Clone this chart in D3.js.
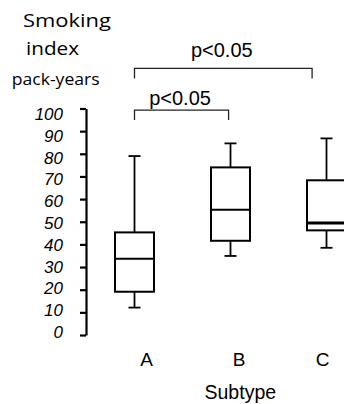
<!DOCTYPE html>
<html>
<head>
<meta charset="utf-8">
<script src="https://cdn.jsdelivr.net/npm/d3@7"></script>
<style>
  body { margin: 0; background: #fff; }
  svg { display: block; }
</style>
</head>
<body>
<div id="chart"></div>
<script>
// data
const categories = ['A', 'B', 'C'];
const whiskerHigh = [79, 84.6, 86.8];
const q3Values = [45.3, 74, 68.3];
const medianValues = [33.7, 55.3, 49.4];
const q1Values = [19.1, 41.6, 46.2];
const whiskerLow = [12.1, 34.9, 38.5];
const yTicks = [0, 10, 20, 30, 40, 50, 60, 70, 80, 90, 100];
// brackets: from / to are category positions, level in data units
const bracketFrom = [0, 0];
const bracketTo = [0.98, 1.85];
const bracketLevel = [99.3, 117.7];
const bracketLabels = ['p<0.05', 'p<0.05'];

const width = 344, height = 404;
const sans = 'Liberation Sans, Arial, sans-serif';
const svg = d3.select('#chart').append('svg')
  .attr('width', width).attr('height', height);

const y = d3.scaleLinear().domain([0, 100]).range([335, 108.5]);
// tick labels sit on a slightly tighter spacing than the ticks
const yLabel = d3.scaleLinear().domain([0, 100]).range([331.7, 114]);
const x = d3.scaleLinear().domain([0, 2]).range([134.5, 326.5]);
const labelX = d3.scaleOrdinal().domain(categories).range([146.7, 239, 322.7]);
const boxHalf = 19.5;

// y axis
const yAxis = svg.append('g')
  .attr('transform', 'translate(86,0)')
  .call(d3.axisLeft(y).tickValues(yTicks).tickSize(6).tickFormat('').tickSizeOuter(0));
yAxis.select('.domain').attr('stroke', '#000').attr('stroke-width', 2.2);
yAxis.selectAll('.tick line').attr('stroke', '#000').attr('stroke-width', 2.2);

svg.append('g').selectAll('text')
  .data(yTicks)
  .join('text')
  .attr('x', 63)
  .attr('y', d => yLabel(d))
  .attr('dy', '0.36em')
  .attr('text-anchor', 'end')
  .attr('font-family', sans)
  .attr('font-style', 'italic')
  .attr('font-size', 17)
  .text(d => d);

// title
const title = svg.append('g')
  .attr('font-family', 'Open Sans, Noto Sans, sans-serif')
  .attr('fill', '#000');
title.append('text').attr('x', 23).attr('y', 27.3).attr('font-size', 18)
  .attr('textLength', 88).attr('lengthAdjust', 'spacingAndGlyphs').text('Smoking');
title.append('text').attr('x', 26).attr('y', 55).attr('font-size', 18)
  .attr('textLength', 53).attr('lengthAdjust', 'spacingAndGlyphs').text('index');
title.append('text').attr('x', 11.7).attr('y', 85).attr('font-size', 15.5)
  .attr('textLength', 88).attr('lengthAdjust', 'spacingAndGlyphs').text('pack-years');

// boxes
const boxes = svg.append('g').selectAll('g')
  .data(categories)
  .join('g');

boxes.append('line')
  .attr('x1', (d, i) => x(i)).attr('x2', (d, i) => x(i))
  .attr('y1', (d, i) => y(whiskerHigh[i])).attr('y2', (d, i) => y(q3Values[i]))
  .attr('stroke', '#000').attr('stroke-width', 1.8);
boxes.append('line')
  .attr('x1', (d, i) => x(i)).attr('x2', (d, i) => x(i))
  .attr('y1', (d, i) => y(q1Values[i])).attr('y2', (d, i) => y(whiskerLow[i]))
  .attr('stroke', '#000').attr('stroke-width', 1.8);
boxes.append('line')
  .attr('x1', (d, i) => x(i) - 6).attr('x2', (d, i) => x(i) + 6)
  .attr('y1', (d, i) => y(whiskerHigh[i])).attr('y2', (d, i) => y(whiskerHigh[i]))
  .attr('stroke', '#000').attr('stroke-width', 1.8);
boxes.append('line')
  .attr('x1', (d, i) => x(i) - 6).attr('x2', (d, i) => x(i) + 6)
  .attr('y1', (d, i) => y(whiskerLow[i])).attr('y2', (d, i) => y(whiskerLow[i]))
  .attr('stroke', '#000').attr('stroke-width', 1.8);
boxes.append('rect')
  .attr('x', (d, i) => x(i) - boxHalf)
  .attr('width', boxHalf * 2)
  .attr('y', (d, i) => y(q3Values[i]))
  .attr('height', (d, i) => y(q1Values[i]) - y(q3Values[i]))
  .attr('fill', '#fff').attr('stroke', '#000').attr('stroke-width', 2);
boxes.append('line')
  .attr('x1', (d, i) => x(i) - boxHalf).attr('x2', (d, i) => x(i) + boxHalf)
  .attr('y1', (d, i) => y(medianValues[i])).attr('y2', (d, i) => y(medianValues[i]))
  .attr('stroke', '#000').attr('stroke-width', (d, i) => i === 2 ? 3 : 2);

// x labels
svg.append('g').selectAll('text')
  .data(categories)
  .join('text')
  .attr('x', d => labelX(d))
  .attr('y', 366)
  .attr('text-anchor', 'middle')
  .attr('font-family', sans)
  .attr('font-size', 19)
  .text(d => d);

svg.append('text')
  .attr('x', 240.3).attr('y', 399)
  .attr('text-anchor', 'middle')
  .attr('font-family', sans)
  .attr('font-size', 19.5)
  .text('Subtype');

// significance brackets
const labelGap = [5, 11];
const brackets = svg.append('g').selectAll('g')
  .data(bracketLabels)
  .join('g');
brackets.append('path')
  .attr('d', (d, i) => {
    const x1 = x(bracketFrom[i]), x2 = x(bracketTo[i]), yy = y(bracketLevel[i]);
    return `M${x1},${yy + 10}V${yy}H${x2}V${yy + 10}`;
  })
  .attr('fill', 'none').attr('stroke', '#222').attr('stroke-width', 1.3);
brackets.append('text')
  .attr('x', (d, i) => (x(bracketFrom[i]) + x(bracketTo[i])) / 2 - 1.5)
  .attr('y', (d, i) => y(bracketLevel[i]) - labelGap[i])
  .attr('text-anchor', 'middle')
  .attr('font-family', sans)
  .attr('font-size', 20)
  .text(d => d);
</script>
</body>
</html>
